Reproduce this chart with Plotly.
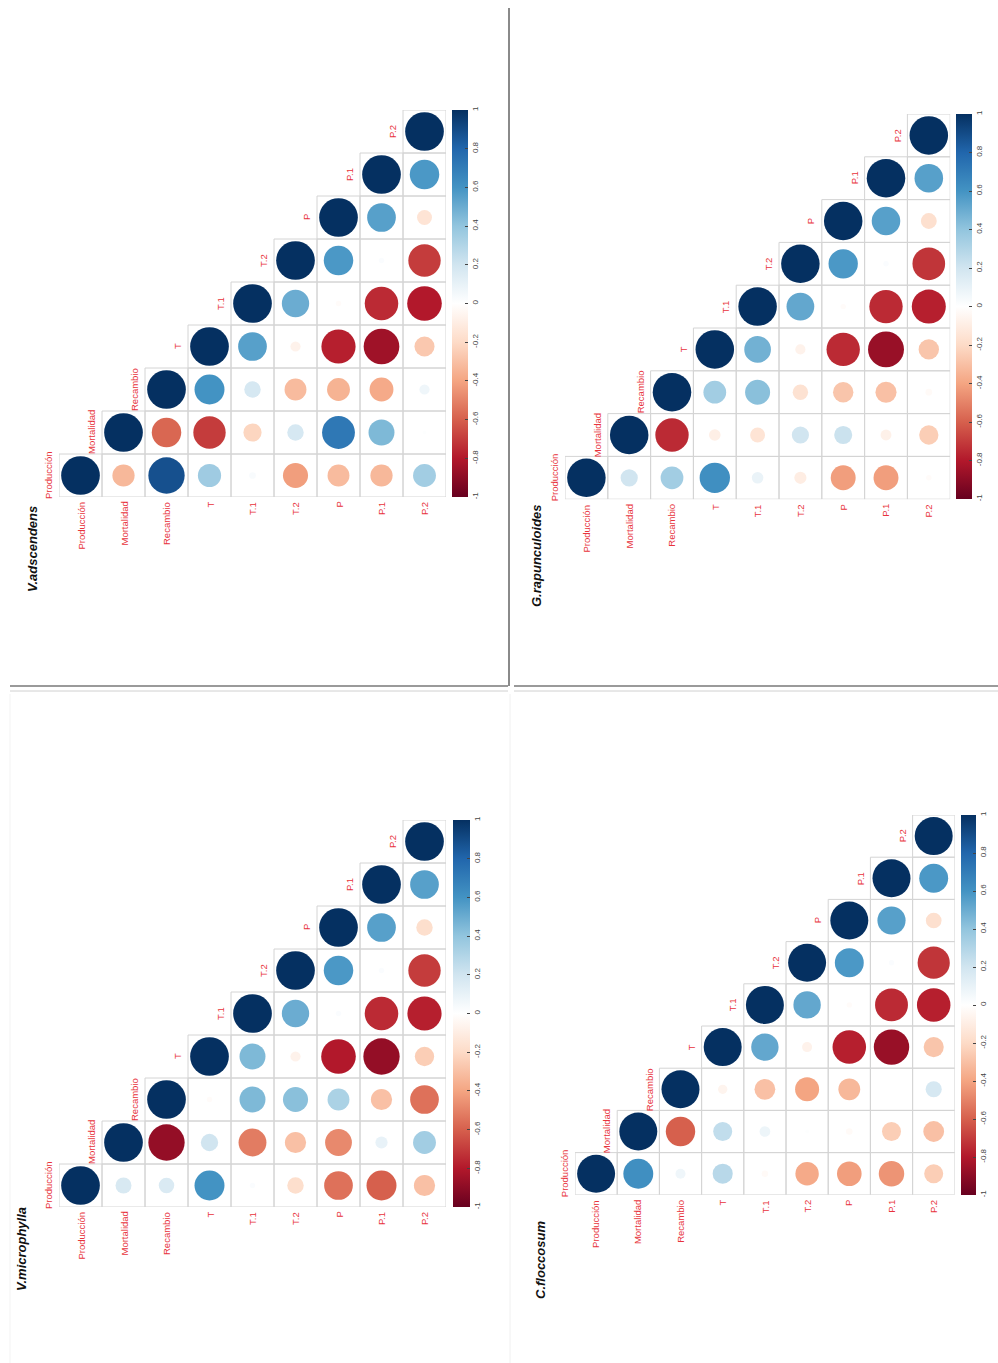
import math
import plotly.graph_objects as go

W, H = 998, 1363

variables = ["Producción", "Mortalidad", "Recambio", "T", "T.1", "T.2", "P", "P.1", "P.2"]

cbar_tickvals = [-1, -0.8, -0.6, -0.4, -0.2, 0, 0.2, 0.4, 0.6, 0.8, 1]
cbar_ticktext = ["-1", "-0.8", "-0.6", "-0.4", "-0.2", "0", "0.2", "0.4", "0.6", "0.8", "1"]

# lower triangle: row i (i = 1..8) holds r(variable i, variable j) for j = 0..i-1
v_adscendens = [
    [-0.33],
    [0.88, -0.58],
    [0.36, -0.70, 0.60],
    [0.03, -0.22, 0.18, 0.55],
    [-0.42, 0.18, -0.32, -0.07, 0.50],
    [-0.32, 0.72, -0.35, -0.78, -0.02, 0.58],
    [-0.33, 0.45, -0.38, -0.85, -0.75, 0.02, 0.55],
    [0.35, 0.01, 0.07, -0.27, -0.80, -0.70, -0.15, 0.58],
]
g_rapunculoides = [
    [0.20],
    [0.35, -0.75],
    [0.62, -0.09, 0.35],
    [0.09, -0.15, 0.42, 0.48],
    [-0.10, 0.20, -0.16, -0.07, 0.52],
    [-0.42, 0.22, -0.28, -0.75, -0.02, 0.58],
    [-0.42, -0.08, -0.30, -0.87, -0.75, 0.02, 0.55],
    [-0.02, -0.25, -0.03, -0.28, -0.78, -0.72, -0.17, 0.55],
]
v_microphylla = [
    [0.17],
    [0.16, -0.88],
    [0.60, 0.20, -0.02],
    [0.02, -0.52, 0.45, 0.45],
    [-0.18, -0.30, 0.42, -0.07, 0.50],
    [-0.55, -0.48, 0.32, -0.80, 0.02, 0.58],
    [-0.60, 0.10, -0.30, -0.88, -0.75, 0.02, 0.55],
    [-0.30, 0.35, -0.55, -0.25, -0.78, -0.70, -0.18, 0.55],
]
c_floccosum = [
    [0.62],
    [0.07, -0.60],
    [0.28, 0.25, -0.06],
    [-0.03, 0.08, -0.30, 0.52],
    [-0.38, 0.01, -0.40, -0.07, 0.52],
    [-0.42, -0.03, -0.33, -0.78, -0.02, 0.58],
    [-0.45, -0.25, 0.00, -0.87, -0.75, 0.02, 0.55],
    [-0.25, -0.30, 0.18, -0.28, -0.78, -0.72, -0.17, 0.58],
]

titles = ["V.adscendens", "G.rapunculoides", "V.microphylla", "C.floccosum"]
matrices = [v_adscendens, g_rapunculoides, v_microphylla, c_floccosum]

# layout (pixels): grid left, grid top, cell size, colorbar left, colorbar width, title centre
panels = [
    dict(L=59, T=110, c=43.0, cbx=452, cbw=16, tx=32, ty=549),
    dict(L=565, T=114, c=42.8, cbx=956, cbw=16, tx=536, ty=556),
    dict(L=59, T=820, c=43.0, cbx=453, cbw=17, tx=21, ty=1249),
    dict(L=575, T=815, c=42.2, cbx=961, cbw=15, tx=540, ty=1260),
]

colorscale = [
    [0.0, "#67001F"], [0.1, "#B2182B"], [0.2, "#D6604D"], [0.3, "#F4A582"],
    [0.4, "#FDDBC7"], [0.5, "#FFFFFF"], [0.6, "#D1E5F0"], [0.7, "#92C5DE"],
    [0.8, "#4393C3"], [0.9, "#2166AC"], [1.0, "#053061"],
]

LABEL_RED = "#e8333b"
FONT = "Liberation Sans, Arial, sans-serif"

fig = go.Figure()
shapes = []
annotations = []
layout_axes = {}

for k, (title, tri, p) in enumerate(zip(titles, matrices, panels)):
    n = len(variables)
    sfx = "" if k == 0 else str(k + 1)
    xa, ya = "x" + sfx, "y" + sfx
    L, T, c = p["L"], p["T"], p["c"]
    layout_axes["xaxis" + sfx] = dict(domain=[L / W, (L + n * c) / W], range=[-0.5, n - 0.5],
                                      visible=False, fixedrange=True, anchor=ya)
    layout_axes["yaxis" + sfx] = dict(domain=[1 - (T + n * c) / H, 1 - T / H], range=[-0.5, n - 0.5],
                                      visible=False, fixedrange=True, anchor=xa)
    xs, ys, vals = [], [], []
    for i in range(n):
        for j in range(i + 1):
            r = 1.0 if i == j else tri[i - 1][j]
            xs.append(i)
            ys.append(j)
            vals.append(r)
            shapes.append(dict(type="rect", xref=xa, yref=ya, x0=i - 0.5, x1=i + 0.5,
                               y0=j - 0.5, y1=j + 0.5, line=dict(color="#d4d4d4", width=1),
                               fillcolor="rgba(0,0,0,0)", layer="below"))
    sizes = [0.9 * c * math.sqrt(abs(v)) for v in vals]
    fig.add_trace(go.Scatter(
        x=xs, y=ys, xaxis=xa, yaxis=ya, mode="markers", hoverinfo="skip", showlegend=False,
        marker=dict(size=sizes, sizemode="diameter", color=vals, colorscale=colorscale,
                    cmin=-1, cmax=1, line=dict(width=0), opacity=1,
                    showscale=True,
                    colorbar=dict(x=p["cbx"] / W, xanchor="left", xref="paper",
                                  y=1 - T / H, yanchor="top", yref="paper",
                                  len=n * c / H, lenmode="fraction",
                                  thickness=p["cbw"], thicknessmode="pixels",
                                  xpad=0, ypad=0, outlinewidth=0,
                                  tickvals=cbar_tickvals, ticktext=cbar_ticktext,
                                  tickangle=-90, ticks="inside", ticklen=3,
                                  tickcolor="#444444", tickwidth=1,
                                  tickfont=dict(family=FONT, size=8, color="#444444")))))
    for i, name in enumerate(variables):
        annotations.append(dict(x=i, y=-0.5, xref=xa, yref=ya, text=name, showarrow=False,
                                textangle=-90, xanchor="center", yanchor="top", yshift=-3,
                                font=dict(family=FONT, size=9.5, color=LABEL_RED)))
        annotations.append(dict(x=i - 0.5, y=i, xref=xa, yref=ya, text=name, showarrow=False,
                                textangle=-90, xanchor="right", yanchor="middle", xshift=-3,
                                font=dict(family=FONT, size=9.5, color=LABEL_RED)))
    annotations.append(dict(x=p["tx"] / W, y=1 - p["ty"] / H, xref="paper", yref="paper",
                            text="<b><i>" + title + "</i></b>", showarrow=False, textangle=-90,
                            xanchor="center", yanchor="middle",
                            font=dict(family=FONT, size=13, color="#111111")))

def hline(y, x0, x1, color, width):
    return dict(type="line", xref="paper", yref="paper", x0=x0 / W, x1=x1 / W,
                y0=1 - y / H, y1=1 - y / H, line=dict(color=color, width=width))

def vline(x, y0, y1, color, width):
    return dict(type="line", xref="paper", yref="paper", x0=x / W, x1=x / W,
                y0=1 - y0 / H, y1=1 - y1 / H, line=dict(color=color, width=width))

shapes += [
    vline(509, 8, 686, "#8a8a8a", 2),
    hline(686, 10, 508, "#9a9a9a", 2),
    hline(691, 10, 508, "#d0d0d0", 1),
    hline(686, 514, 998, "#9a9a9a", 2),
    hline(691, 514, 998, "#d0d0d0", 1),
    vline(510, 694, 1363, "#f0f0f0", 1),
    vline(10, 694, 1363, "#f3f3f3", 1),
]

fig.update_layout(width=W, height=H, margin=dict(l=0, r=0, t=0, b=0),
                  paper_bgcolor="white", plot_bgcolor="white",
                  shapes=shapes, annotations=annotations, **layout_axes)

fig.write_html("out.html")
